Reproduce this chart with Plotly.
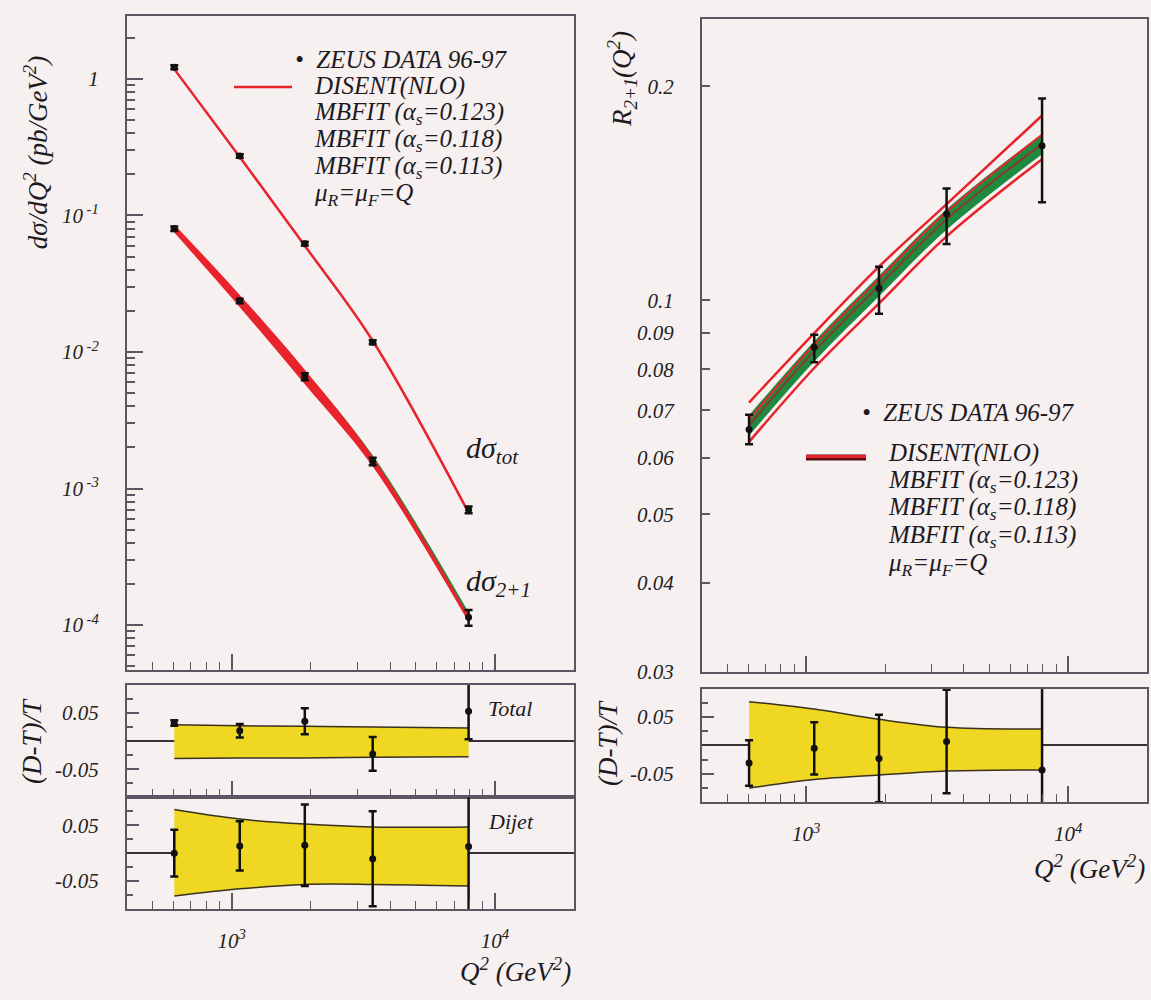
import math
import plotly.graph_objects as go

# ---------------- data ----------------
q2 = [605, 1073, 1896, 3435, 7950]                      # Q^2 bin centres (GeV^2)

# left: cross sections (pb/GeV^2)
sig_tot = [1.22, 0.273, 0.0622, 0.0118, 7.0e-4]
sig_tot_err = [0.04, 0.008, 0.002, 0.0004, 0.4e-4]
sig_dij = [0.080, 0.0237, 0.0066, 1.58e-3, 1.14e-4]
sig_dij_err = [0.003, 0.0009, 0.0004, 0.10e-3, 0.15e-4]

th_tot = [1.18, 0.268, 0.0600, 0.0121, 6.65e-4]
th_dij_red_up = [0.086, 0.0262, 0.0074, 1.72e-3, 1.17e-4]
th_dij_red_dn = [0.075, 0.0213, 0.0058, 1.45e-3, 1.05e-4]
th_dij_grn_up = [0.084, 0.0255, 0.0072, 1.75e-3, 1.24e-4]
th_dij_grn_dn = [0.078, 0.0225, 0.0062, 1.55e-3, 1.10e-4]

# left ratio panels (D-T)/T
r_tot = [0.032, 0.018, 0.035, -0.023, 0.053]
r_tot_err = [0.005, 0.012, 0.023, 0.030, 0.050]
band_tot_up = [0.029, 0.027, 0.026, 0.025, 0.023]
band_tot_dn = [-0.031, -0.030, -0.030, -0.029, -0.028]

r_dij = [0.0, 0.013, 0.014, -0.010, 0.012]
r_dij_err = [0.042, 0.044, 0.073, 0.085, 0.200]
band_dij_up = [0.078, 0.061, 0.052, 0.047, 0.047]
band_dij_dn = [-0.077, -0.064, -0.056, -0.056, -0.059]

# right: R_{2+1}
R_data = [0.0658, 0.0859, 0.104, 0.1323, 0.165]
R_err_up = [0.0032, 0.0035, 0.0075, 0.0114, 0.0273]
R_err_dn = [0.0031, 0.0041, 0.0083, 0.0123, 0.0276]
R_a123 = [0.0718, 0.0899, 0.1115, 0.1366, 0.182]
R_a118 = [0.0680, 0.0866, 0.1072, 0.1332, 0.171]
R_a113 = [0.0632, 0.0803, 0.0990, 0.1230, 0.158]
R_dis_up = [0.0689, 0.0876, 0.1083, 0.1343, 0.1715]
R_dis_dn = [0.0645, 0.0820, 0.1013, 0.1257, 0.1605]
R_dis_c = [0.0667, 0.0848, 0.1048, 0.1300, 0.1660]

r_R = [-0.031, -0.005, -0.023, 0.007, -0.043]
r_R_err = [0.040, 0.046, 0.077, 0.091, 0.200]
band_R_up = [0.077, 0.064, 0.046, 0.032, 0.029]
band_R_dn = [-0.075, -0.060, -0.052, -0.045, -0.043]

x_ticks = [1000, 10000]
x_ticktext = ["10<sup>3</sup>", "10<sup>4</sup>"]
ysig_ticks = [1e-4, 1e-3, 1e-2, 1e-1, 1]
ysig_ticktext = ["10<sup> -4</sup>", "10<sup> -3</sup>", "10<sup> -2</sup>", "10<sup> -1</sup>", "1"]
yR_ticks = [0.03, 0.04, 0.05, 0.06, 0.07, 0.08, 0.09, 0.1, 0.2]
yR_ticktext = ["0.03", "0.04", "0.05", "0.06", "0.07", "0.08", "0.09", "0.1", "0.2"]
yr_ticks = [-0.05, 0.05]
yr_ticktext = ["-0.05", "0.05"]

# ---------------- style ----------------
W, H = 1151, 1000
BG = "#f7f0f0"
FR = "#5e5462"
RED = "#e8232b"
GRN = "#1d8a40"
BRN = "#8a3a2a"
YEL = "#f0d822"
EDGE = "#3a3020"
FONT = "Liberation Serif"


def px(x):
    return x / W


def py(y):
    return 1 - y / H


xminor = [m * 10 ** e for e in (2, 3) for m in range(2, 10)] + [20000]
xminor = [v for v in xminor if 400 <= v <= 20000 and v not in (1000, 10000)]
ysig_minor = [m * 10 ** e for e in range(-5, 1) for m in range(2, 10)]
ysig_minor = [v for v in ysig_minor if 4.7e-5 <= v <= 2.9]

XR = [math.log10(400), math.log10(20000)]
tickfont = dict(family=FONT, size=21, color="#222", style="italic")


def xaxis(domain, anchor, labels):
    return dict(type="log", range=XR, domain=domain, anchor=anchor,
                showline=True, mirror=True, linecolor=FR, linewidth=2,
                ticks="inside", ticklen=16, tickwidth=1.5, tickcolor=FR,
                tickvals=x_ticks, ticktext=x_ticktext,
                showticklabels=labels, tickfont=tickfont, ticklabelstandoff=12,
                minor=dict(ticks="inside", ticklen=8, tickwidth=1.2, tickcolor=FR,
                           tickvals=xminor, showgrid=False),
                showgrid=False, zeroline=False)


def ratio_yaxis(domain, anchor):
    return dict(range=[-0.1, 0.1], domain=domain, anchor=anchor,
                showline=True, mirror=True, linecolor=FR, linewidth=2,
                ticks="inside", ticklen=12, tickwidth=1.5, tickcolor=FR,
                tickvals=yr_ticks, ticktext=yr_ticktext, tickfont=tickfont,
                ticklabelstandoff=22,
                minor=dict(ticks="inside", ticklen=6, tickcolor=FR,
                           tickvals=[-0.075, -0.025, 0.025, 0.075]),
                showgrid=False, zeroline=True, zerolinecolor="#3a3038",
                zerolinewidth=2)


fig = go.Figure()


def band(xa, ya, xs, up, dn, color, name, edge=None):
    lw = 1.5 if edge else 0
    lc = edge if edge else color
    fig.add_trace(go.Scatter(x=xs, y=dn, xaxis=xa, yaxis=ya, mode="lines",
                             line=dict(width=lw, color=lc, shape="spline"),
                             hoverinfo="skip", showlegend=False, name=name + " low"))
    fig.add_trace(go.Scatter(x=xs, y=up, xaxis=xa, yaxis=ya, mode="lines",
                             fill="tonexty", fillcolor=color,
                             line=dict(width=lw, color=lc, shape="spline"),
                             hoverinfo="skip", showlegend=False, name=name + " up"))


def line(xa, ya, xs, ys, color, width, name):
    fig.add_trace(go.Scatter(x=xs, y=ys, xaxis=xa, yaxis=ya, mode="lines",
                             line=dict(color=color, width=width, shape="spline"),
                             showlegend=False, name=name))


def points(xa, ya, xs, ys, eup, edn=None):
    fig.add_trace(go.Scatter(x=xs, y=ys, xaxis=xa, yaxis=ya, mode="markers",
                             marker=dict(color="#111", size=7),
                             error_y=dict(type="data", array=eup,
                                          arrayminus=edn if edn is not None else eup,
                                          color="#111", thickness=2.5, width=4),
                             showlegend=False, name="ZEUS"))


# left main
band("x", "y", q2, th_dij_grn_up, th_dij_grn_dn, GRN, "DISENT dijet")
band("x", "y", q2, th_dij_red_up, th_dij_red_dn, RED, "MBFIT dijet")
line("x", "y", q2, th_tot, RED, 2.5, "total")
points("x", "y", q2, sig_tot, sig_tot_err)
points("x", "y", q2, sig_dij, sig_dij_err)

# left ratio: Total
band("x2", "y2", q2, band_tot_up, band_tot_dn, YEL, "Total band", EDGE)
points("x2", "y2", q2, r_tot, r_tot_err)

# left ratio: Dijet
band("x3", "y3", q2, band_dij_up, band_dij_dn, YEL, "Dijet band", EDGE)
points("x3", "y3", q2, r_dij, r_dij_err)

# right main
band("x4", "y4", q2, R_dis_up, R_dis_dn, GRN, "DISENT")
line("x4", "y4", q2, R_a123, RED, 2.5, "a123")
line("x4", "y4", q2, R_a118, RED, 2.0, "a118")
line("x4", "y4", q2, R_a113, RED, 2.5, "a113")
line("x4", "y4", q2, R_dis_c, BRN, 2.0, "DISENT c")
points("x4", "y4", q2, R_data, R_err_up, R_err_dn)

# right ratio
band("x5", "y5", q2, band_R_up, band_R_dn, YEL, "R band", EDGE)
points("x5", "y5", q2, r_R, r_R_err)

# ---------------- axes ----------------
dL = [px(127), px(574)]
dR = [px(702), px(1147)]
layout = dict(
    width=W, height=H, autosize=False, margin=dict(l=0, r=0, t=0, b=0),
    paper_bgcolor=BG, plot_bgcolor=BG, showlegend=False,
    xaxis=xaxis(dL, "y", False),
    xaxis2=xaxis(dL, "y2", False),
    xaxis3=xaxis(dL, "y3", True),
    xaxis4=xaxis(dR, "y4", False),
    xaxis5=xaxis(dR, "y5", True),
    yaxis=dict(type="log", range=[math.log10(4.7e-5), math.log10(2.9)],
               domain=[py(678), py(16)], anchor="x",
               showline=True, mirror=True, linecolor=FR, linewidth=2,
               ticks="inside", ticklen=16, tickwidth=1.5, tickcolor=FR,
               tickvals=ysig_ticks, ticktext=ysig_ticktext, tickfont=tickfont,
               ticklabelstandoff=22,
               minor=dict(ticks="inside", ticklen=8, tickcolor=FR, tickvals=ysig_minor),
               showgrid=False, zeroline=False),
    yaxis2=ratio_yaxis([py(807), py(693)], "x2"),
    yaxis3=ratio_yaxis([py(920), py(807)], "x3"),
    yaxis4=dict(type="log", range=[math.log10(0.03), math.log10(0.249)],
                domain=[py(680), py(19)], anchor="x4",
                showline=True, mirror=True, linecolor=FR, linewidth=2,
                ticks="inside", ticklen=8, tickwidth=1.5, tickcolor=FR,
                tickvals=yR_ticks, ticktext=yR_ticktext, tickfont=tickfont,
                ticklabelstandoff=22, showgrid=False, zeroline=False),
    yaxis5=ratio_yaxis([py(812), py(697)], "x5"),
)
fig.update_layout(**layout)

# ---------------- text ----------------
LEG = dict(family=FONT, size=25, color="#1e1a1e", style="italic")


def txt(x, y, s, font=LEG, xanchor="left", angle=0):
    fig.add_annotation(x=px(x), y=py(y), xref="paper", yref="paper", text=s,
                       showarrow=False, xanchor=xanchor, yanchor="middle",
                       textangle=angle, font=font)


leg_lines = ["DISENT(NLO)",
             "MBFIT (α<sub>s</sub>=0.123)",
             "MBFIT (α<sub>s</sub>=0.118)",
             "MBFIT (α<sub>s</sub>=0.113)",
             "μ<sub>R</sub>=μ<sub>F</sub>=Q"]

# left legend
txt(293, 60, "•  ZEUS DATA 96-97")
for i, s in enumerate(leg_lines):
    txt(312, 87 + 27.5 * i, s)
fig.add_shape(type="line", xref="paper", yref="paper", x0=px(234), x1=px(292),
              y0=py(88), y1=py(88), line=dict(color=RED, width=2.5))

# right legend
txt(860, 418, "•  ZEUS DATA 96-97")
for i, s in enumerate(leg_lines):
    txt(886, 459 + 28 * i, s)
fig.add_shape(type="line", xref="paper", yref="paper", x0=px(806), x1=px(866),
              y0=py(463), y1=py(463), line=dict(color="#5a1010", width=6))
fig.add_shape(type="line", xref="paper", yref="paper", x0=px(806), x1=px(866),
              y0=py(462), y1=py(462), line=dict(color=RED, width=3))

BIG = dict(family=FONT, size=30, color="#1e1a1e", style="italic")
txt(464, 455, "dσ<sub>tot</sub>", font=BIG)
txt(464, 590, "dσ<sub>2+1</sub>", font=BIG)

MID = dict(family=FONT, size=22, color="#1e1a1e", style="italic")
txt(486, 717, "Total", font=MID)
txt(486, 831, "Dijet", font=MID)

TIT = dict(family=FONT, size=27, color="#1e1a1e", style="italic")
txt(36, 155, "dσ/dQ<sup>2</sup> (pb/GeV<sup>2</sup>)", font=TIT, xanchor="center", angle=-90)
txt(622, 80, "R<sub>2+1</sub>(Q<sup>2</sup>)", font=TIT, xanchor="center", angle=-90)
txt(32, 750, "(D-T)/T", font=TIT, xanchor="center", angle=-90)
txt(608, 752, "(D-T)/T", font=TIT, xanchor="center", angle=-90)
txt(573, 982, "Q<sup>2</sup> (GeV<sup>2</sup>)", font=TIT, xanchor="right")
txt(1147, 878, "Q<sup>2</sup> (GeV<sup>2</sup>)", font=TIT, xanchor="right")

fig.write_html("out.html", config={"displayModeBar": False, "responsive": False},
               post_script="document.body.style.margin='0';"
                           "document.body.style.overflow='hidden';")
